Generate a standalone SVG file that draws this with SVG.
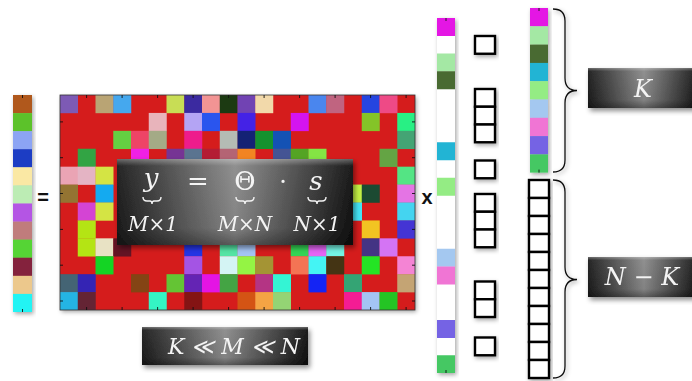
<svg xmlns="http://www.w3.org/2000/svg" width="692" height="381" viewBox="0 0 692 381">
<style>
.bx{stroke:#000;stroke-width:2.4;fill:#fff}
.tk{stroke:#111;stroke-width:0.9}
.br{fill:none;stroke:#111;stroke-width:1.3}
.ub{fill:none;stroke:#f2f2f2;stroke-width:1.4}
.mt{font-family:"DejaVu Serif","Liberation Serif",serif;fill:#f4f4f4}
.it{font-style:italic}
.op{font-family:"Liberation Sans",Arial,sans-serif;font-weight:bold;fill:#111}
</style>
<defs>
<linearGradient id="bg" x1="0" y1="0" x2="1" y2="0">
<stop offset="0" stop-color="#1c1c1c"/>
<stop offset="0.5" stop-color="#8a8a8a"/>
<stop offset="1" stop-color="#111"/>
</linearGradient>
<linearGradient id="vg" x1="0" y1="0" x2="0" y2="1">
<stop offset="0" stop-color="#fff" stop-opacity="0.35"/>
<stop offset="0.08" stop-color="#fff" stop-opacity="0.05"/>
<stop offset="0.8" stop-color="#000" stop-opacity="0.05"/>
<stop offset="1" stop-color="#000" stop-opacity="0.35"/>
</linearGradient>
<filter id="sh" x="-20%" y="-20%" width="140%" height="140%">
<feDropShadow dx="2" dy="3" stdDeviation="2.5" flood-color="#000" flood-opacity="0.45"/>
</filter>
<filter id="sh2" x="-20%" y="-10%" width="140%" height="120%">
<feDropShadow dx="1.5" dy="2" stdDeviation="2" flood-color="#000" flood-opacity="0.35"/>
</filter>
</defs>

<!-- y vector -->
<g id="vector-y" filter="url(#sh2)">
<rect x="13" y="95" width="19" height="18.3" fill="#b0581c"/>
<rect x="13" y="113.1" width="19" height="18.3" fill="#5cc22c"/>
<rect x="13" y="131.2" width="19" height="18.3" fill="#8ca4f4"/>
<rect x="13" y="149.2" width="19" height="18.3" fill="#1c3cc4"/>
<rect x="13" y="167.3" width="19" height="18.3" fill="#fae8a4"/>
<rect x="13" y="185.4" width="19" height="18.3" fill="#bcecb4"/>
<rect x="13" y="203.5" width="19" height="18.3" fill="#b454e4"/>
<rect x="13" y="221.6" width="19" height="18.3" fill="#c07c7c"/>
<rect x="13" y="239.6" width="19" height="18.3" fill="#54d434"/>
<rect x="13" y="257.7" width="19" height="18.3" fill="#84203c"/>
<rect x="13" y="275.8" width="19" height="18.3" fill="#ecc88c"/>
<rect x="13" y="293.9" width="19" height="18.1" fill="#24f4f4"/>
<line class="tk" x1="22.5" y1="95" x2="22.5" y2="98"/>
<line class="tk" x1="22.5" y1="309" x2="22.5" y2="312"/>
</g>

<g id="equals"><text class="op" x="43" y="204" font-size="20" text-anchor="middle">=</text></g>

<!-- matrix Theta -->
<g id="matrix">
<rect x="60" y="95" width="355" height="215" fill="#d51a1a" filter="url(#sh2)"/>
<g>
<rect x="60" y="95" width="18" height="18.2" fill="#7d5ab5"/>
<rect x="95.5" y="95" width="18" height="18.2" fill="#b9a474"/>
<rect x="113.25" y="95" width="18" height="18.2" fill="#45a8ee"/>
<rect x="166.5" y="95" width="18" height="18.2" fill="#c8dd55"/>
<rect x="184.25" y="95" width="18" height="18.2" fill="#3b2aa0"/>
<rect x="202" y="95" width="18" height="18.2" fill="#f29494"/>
<rect x="219.75" y="95" width="18" height="18.2" fill="#1c3a12"/>
<rect x="237.5" y="95" width="18" height="18.2" fill="#7143b3"/>
<rect x="255.25" y="95" width="18" height="18.2" fill="#f2d9aa"/>
<rect x="308.5" y="95" width="18" height="18.2" fill="#4a86ee"/>
<rect x="326.25" y="95" width="18" height="18.2" fill="#c06480"/>
<rect x="361.75" y="95" width="18" height="18.2" fill="#2545e0"/>
<rect x="379.5" y="95" width="18" height="18.2" fill="#ee4a86"/>

<rect x="148.75" y="112.92" width="18" height="18.2" fill="#e8b4bb"/>
<rect x="184.25" y="112.92" width="18" height="18.2" fill="#b4a4f4"/>
<rect x="202" y="112.92" width="18" height="18.2" fill="#2a55ee"/>
<rect x="237.5" y="112.92" width="18" height="18.2" fill="#4422e6"/>
<rect x="290.75" y="112.92" width="18" height="18.2" fill="#d414f0"/>
<rect x="361.75" y="112.92" width="18" height="18.2" fill="#84c428"/>
<rect x="397.25" y="112.92" width="17.75" height="18.2" fill="#28f084"/>

<rect x="113.25" y="130.83" width="18" height="18.2" fill="#64d042"/>
<rect x="131" y="130.83" width="18" height="18.2" fill="#ee4466"/>
<rect x="148.75" y="130.83" width="18" height="18.2" fill="#a4aa86"/>
<rect x="184.25" y="130.83" width="18" height="18.2" fill="#ee1c8c"/>
<rect x="219.75" y="130.83" width="18" height="18.2" fill="#b4bcb4"/>
<rect x="237.5" y="130.83" width="18" height="18.2" fill="#142274"/>
<rect x="255.25" y="130.83" width="18" height="18.2" fill="#14922e"/>
<rect x="273" y="130.83" width="18" height="18.2" fill="#1452b4"/>
<rect x="397.25" y="130.83" width="17.75" height="18.2" fill="#44a474"/>

<rect x="77.75" y="148.75" width="18" height="18.2" fill="#32a444"/>
<rect x="131" y="148.75" width="18" height="18.2" fill="#f020e4"/>
<rect x="166.5" y="148.75" width="18" height="18.2" fill="#763494"/>
<rect x="184.25" y="148.75" width="18" height="18.2" fill="#5a7490"/>
<rect x="202" y="148.75" width="18" height="18.2" fill="#b41c34"/>
<rect x="219.75" y="148.75" width="18" height="18.2" fill="#b46474"/>
<rect x="237.5" y="148.75" width="18" height="18.2" fill="#f28422"/>
<rect x="273" y="148.75" width="18" height="18.2" fill="#445494"/>
<rect x="290.75" y="148.75" width="18" height="18.2" fill="#54a424"/>
<rect x="308.5" y="148.75" width="18" height="18.2" fill="#84e444"/>
<rect x="379.5" y="148.75" width="18" height="18.2" fill="#64a444"/>

<rect x="60" y="166.67" width="18" height="18.2" fill="#eaa4b4"/>
<rect x="77.75" y="166.67" width="18" height="18.2" fill="#e4b4c4"/>
<rect x="95.5" y="166.67" width="18" height="18.2" fill="#d4e444"/>
<rect x="397.25" y="166.67" width="17.75" height="18.2" fill="#54e484"/>

<rect x="60" y="184.58" width="18" height="18.2" fill="#947432"/>
<rect x="95.5" y="184.58" width="18" height="18.2" fill="#14aaf0"/>
<rect x="344" y="184.58" width="18" height="18.2" fill="#c4f044"/>
<rect x="361.75" y="184.58" width="18" height="18.2" fill="#1c4a32"/>
<rect x="397.25" y="184.58" width="17.75" height="18.2" fill="#e474e4"/>

<rect x="77.75" y="202.5" width="18" height="18.2" fill="#d444d4"/>
<rect x="95.5" y="202.5" width="18" height="18.2" fill="#d4e444"/>
<rect x="344" y="202.5" width="18" height="18.2" fill="#44e4f4"/>
<rect x="397.25" y="202.5" width="17.75" height="18.2" fill="#44d4f0"/>

<rect x="77.75" y="220.42" width="18" height="18.2" fill="#b4e414"/>
<rect x="361.75" y="220.42" width="18" height="18.2" fill="#f2c422"/>
<rect x="397.25" y="220.42" width="17.75" height="18.2" fill="#4434d4"/>

<rect x="77.75" y="238.33" width="18" height="18.2" fill="#b4e414"/>
<rect x="95.5" y="238.33" width="18" height="18.2" fill="#e8e2c4"/>
<rect x="113.25" y="238.33" width="18" height="18.2" fill="#641424"/>
<rect x="184.25" y="238.33" width="18" height="18.2" fill="#2434e4"/>
<rect x="219.75" y="238.33" width="18" height="18.2" fill="#54e4a4"/>
<rect x="237.5" y="238.33" width="18" height="18.2" fill="#a4c4f4"/>
<rect x="290.75" y="238.33" width="18" height="18.2" fill="#34d454"/>
<rect x="308.5" y="238.33" width="18" height="18.2" fill="#e464f4"/>
<rect x="326.25" y="238.33" width="18" height="18.2" fill="#74f4e4"/>
<rect x="361.75" y="238.33" width="18" height="18.2" fill="#443484"/>
<rect x="379.5" y="238.33" width="18" height="18.2" fill="#d474f4"/>

<rect x="95.5" y="256.25" width="18" height="18.2" fill="#14d424"/>
<rect x="184.25" y="256.25" width="18" height="18.2" fill="#a454e4"/>
<rect x="219.75" y="256.25" width="18" height="18.2" fill="#d4f4f4"/>
<rect x="237.5" y="256.25" width="18" height="18.2" fill="#94f444"/>
<rect x="255.25" y="256.25" width="18" height="18.2" fill="#a49434"/>
<rect x="290.75" y="256.25" width="18" height="18.2" fill="#f47454"/>
<rect x="308.5" y="256.25" width="18" height="18.2" fill="#44f4f4"/>
<rect x="326.25" y="256.25" width="18" height="18.2" fill="#443414"/>
<rect x="361.75" y="256.25" width="18" height="18.2" fill="#24e424"/>
<rect x="397.25" y="256.25" width="17.75" height="18.2" fill="#f484d4"/>

<rect x="60" y="274.17" width="18" height="18.2" fill="#446474"/>
<rect x="77.75" y="274.17" width="18" height="18.2" fill="#3424b4"/>
<rect x="131" y="274.17" width="18" height="18.2" fill="#844414"/>
<rect x="166.5" y="274.17" width="18" height="18.2" fill="#64c434"/>
<rect x="184.25" y="274.17" width="18" height="18.2" fill="#6424b4"/>
<rect x="202" y="274.17" width="18" height="18.2" fill="#e414e4"/>
<rect x="219.75" y="274.17" width="18" height="18.2" fill="#44a444"/>
<rect x="255.25" y="274.17" width="18" height="18.2" fill="#b43484"/>
<rect x="273" y="274.17" width="18" height="18.2" fill="#34f4d4"/>
<rect x="308.5" y="274.17" width="18" height="18.2" fill="#1424f4"/>
<rect x="344" y="274.17" width="18" height="18.2" fill="#34a474"/>
<rect x="397.25" y="274.17" width="17.75" height="18.2" fill="#c4a474"/>

<rect x="60" y="292.08" width="18" height="17.92" fill="#24b4e4"/>
<rect x="77.75" y="292.08" width="18" height="17.92" fill="#642434"/>
<rect x="148.75" y="292.08" width="18" height="17.92" fill="#34f4c4"/>
<rect x="184.25" y="292.08" width="18" height="17.92" fill="#841414"/>
<rect x="237.5" y="292.08" width="18" height="17.92" fill="#d45414"/>
<rect x="255.25" y="292.08" width="18" height="17.92" fill="#f4a444"/>
<rect x="273" y="292.08" width="18" height="17.92" fill="#94d474"/>
<rect x="344" y="292.08" width="18" height="17.92" fill="#f41c94"/>
<rect x="361.75" y="292.08" width="18" height="17.92" fill="#a4c4f4"/>
<rect x="379.5" y="292.08" width="18" height="17.92" fill="#24c424"/>
</g>
<rect x="60" y="95" width="355" height="215" fill="none" stroke="#333" stroke-width="0.8"/>
<path class="tk" d="M86.6 95v3M122.1 95v3M157.6 95v3M193.1 95v3M228.6 95v3M264.1 95v3M299.6 95v3M335.1 95v3M370.6 95v3M406.1 95v3
M86.6 310v-3M122.1 310v-3M157.6 310v-3M193.1 310v-3M228.6 310v-3M264.1 310v-3M299.6 310v-3M335.1 310v-3M370.6 310v-3M406.1 310v-3
M60 121.9h3M60 157.7h3M60 193.5h3M60 229.4h3M60 265.2h3M60 301h3
M415 121.9h-3M415 157.7h-3M415 193.5h-3M415 229.4h-3M415 265.2h-3M415 301h-3"/>
</g>

<!-- equation box -->
<g id="equation" filter="url(#sh)">
<rect x="117" y="159" width="236" height="86" fill="url(#bg)"/>
<rect x="117" y="159" width="236" height="86" fill="url(#vg)"/>
<text class="mt it" x="151" y="187" font-size="26" text-anchor="middle">y</text>
<text class="mt" x="198" y="190" font-size="26" text-anchor="middle">=</text>
<text class="mt" x="245" y="190" font-size="26" text-anchor="middle">Θ</text>
<text class="mt" x="283" y="190" font-size="24" text-anchor="middle">·</text>
<text class="mt it" x="316" y="190" font-size="26" text-anchor="middle">s</text>
<path class="ub" d="M143 197q0 4 4 4h3q2 0 2 3q0-3 2-3h3q4 0 4-4"/>
<path class="ub" d="M236 197q0 4 4 4h3q2 0 2 3q0-3 2-3h3q4 0 4-4"/>
<path class="ub" d="M308 197q0 4 4 4h3q2 0 2 3q0-3 2-3h3q4 0 4-4"/>
<text class="mt it" x="153" y="231" font-size="20" text-anchor="middle">M×1</text>
<text class="mt it" x="245" y="231" font-size="20" text-anchor="middle">M×N</text>
<text class="mt it" x="317" y="231" font-size="20" text-anchor="middle">N×1</text>
</g>

<!-- bottom relation box -->
<g id="relation" filter="url(#sh)">
<rect x="142" y="327" width="166" height="38" fill="url(#bg)"/>
<rect x="142" y="327" width="166" height="38" fill="url(#vg)"/>
<text class="mt it" x="234" y="354" font-size="22" text-anchor="middle">K ≪ M ≪ N</text>
</g>

<g id="times"><text class="op" x="427" y="204" font-size="20" text-anchor="middle">x</text></g>

<!-- s vector -->
<g id="vector-s" filter="url(#sh2)">
<rect x="437" y="18" width="18" height="355" fill="#fff"/>
<rect x="437" y="18" width="18" height="18" fill="#e414e4"/>
<rect x="437" y="53.5" width="18" height="18" fill="#a4e8a4"/>
<rect x="437" y="71.25" width="18" height="18" fill="#4a6a30"/>
<rect x="437" y="142.25" width="18" height="18" fill="#24b4d4"/>
<rect x="437" y="177.75" width="18" height="18" fill="#94ec84"/>
<rect x="437" y="248.75" width="18" height="18" fill="#a4c8f0"/>
<rect x="437" y="266.5" width="18" height="18" fill="#f074d4"/>
<rect x="437" y="320" width="18" height="18" fill="#7464e4"/>
<rect x="437" y="355.25" width="18" height="17.75" fill="#44c864"/>
<line class="tk" x1="446" y1="18" x2="446" y2="21"/>
<line class="tk" x1="446" y1="370" x2="446" y2="373"/>
</g>

<!-- zero markers -->
<g id="zeros" filter="url(#sh2)">
<rect class="bx" x="475" y="36" width="20" height="17.75"/>
<rect class="bx" x="475" y="89" width="20" height="17.75"/>
<rect class="bx" x="475" y="106.75" width="20" height="17.75"/>
<rect class="bx" x="475" y="124.5" width="20" height="17.75"/>
<rect class="bx" x="475" y="160.5" width="20" height="17.75"/>
<rect class="bx" x="475" y="194" width="20" height="17.75"/>
<rect class="bx" x="475" y="211.75" width="20" height="17.75"/>
<rect class="bx" x="475" y="229.5" width="20" height="17.75"/>
<rect class="bx" x="475" y="281.5" width="20" height="17.75"/>
<rect class="bx" x="475" y="299.25" width="20" height="17.75"/>
<rect class="bx" x="475" y="337.5" width="20" height="17.75"/>
</g>

<!-- sorted vector: K nonzero -->
<g id="nonzero-part" filter="url(#sh2)">
<rect x="530" y="8" width="18" height="18.4" fill="#e414e4"/>
<rect x="530" y="26.3" width="18" height="18.4" fill="#a4e8a4"/>
<rect x="530" y="44.6" width="18" height="18.4" fill="#4a6a30"/>
<rect x="530" y="62.9" width="18" height="18.4" fill="#24b4d4"/>
<rect x="530" y="81.2" width="18" height="18.4" fill="#94ec84"/>
<rect x="530" y="99.5" width="18" height="18.4" fill="#a4c8f0"/>
<rect x="530" y="117.8" width="18" height="18.4" fill="#f074d4"/>
<rect x="530" y="136.1" width="18" height="18.4" fill="#7464e4"/>
<rect x="530" y="154.4" width="18" height="18.2" fill="#44c864"/>
<line class="tk" x1="539" y1="8" x2="539" y2="11"/>
<line class="tk" x1="539" y1="169.6" x2="539" y2="172.6"/>
</g>

<!-- sorted vector: N-K zeros -->
<g id="zero-part" filter="url(#sh2)">
<rect class="bx" x="529" y="180" width="20" height="18"/>
<rect class="bx" x="529" y="198" width="20" height="18"/>
<rect class="bx" x="529" y="216" width="20" height="18"/>
<rect class="bx" x="529" y="234" width="20" height="18"/>
<rect class="bx" x="529" y="252" width="20" height="18"/>
<rect class="bx" x="529" y="270" width="20" height="18"/>
<rect class="bx" x="529" y="288" width="20" height="18"/>
<rect class="bx" x="529" y="306" width="20" height="18"/>
<rect class="bx" x="529" y="324" width="20" height="18"/>
<rect class="bx" x="529" y="342" width="20" height="18"/>
<rect class="bx" x="529" y="360" width="20" height="18"/>
</g>

<g id="connectors" filter="url(#sh2)">
<path class="br" d="M553 9Q565 9 565 21L565 78Q565 90.5 577 90.5Q565 90.5 565 103L565 160Q565 172 553 172"/>
<path class="br" d="M553 180Q565 180 565 192L565 267Q565 279.5 577 279.5Q565 279.5 565 292L565 366Q565 378 553 378"/>
</g>

<g id="label-K" filter="url(#sh)">
<rect x="588" y="68" width="112" height="40" fill="url(#bg)"/>
<rect x="588" y="68" width="112" height="40" fill="url(#vg)"/>
<text class="mt it" x="643" y="97" font-size="24" text-anchor="middle">K</text>
</g>

<g id="label-NK" filter="url(#sh)">
<rect x="588" y="257" width="112" height="40" fill="url(#bg)"/>
<rect x="588" y="257" width="112" height="40" fill="url(#vg)"/>
<text class="mt it" x="642" y="285" font-size="24" text-anchor="middle">N − K</text>
</g>
</svg>
